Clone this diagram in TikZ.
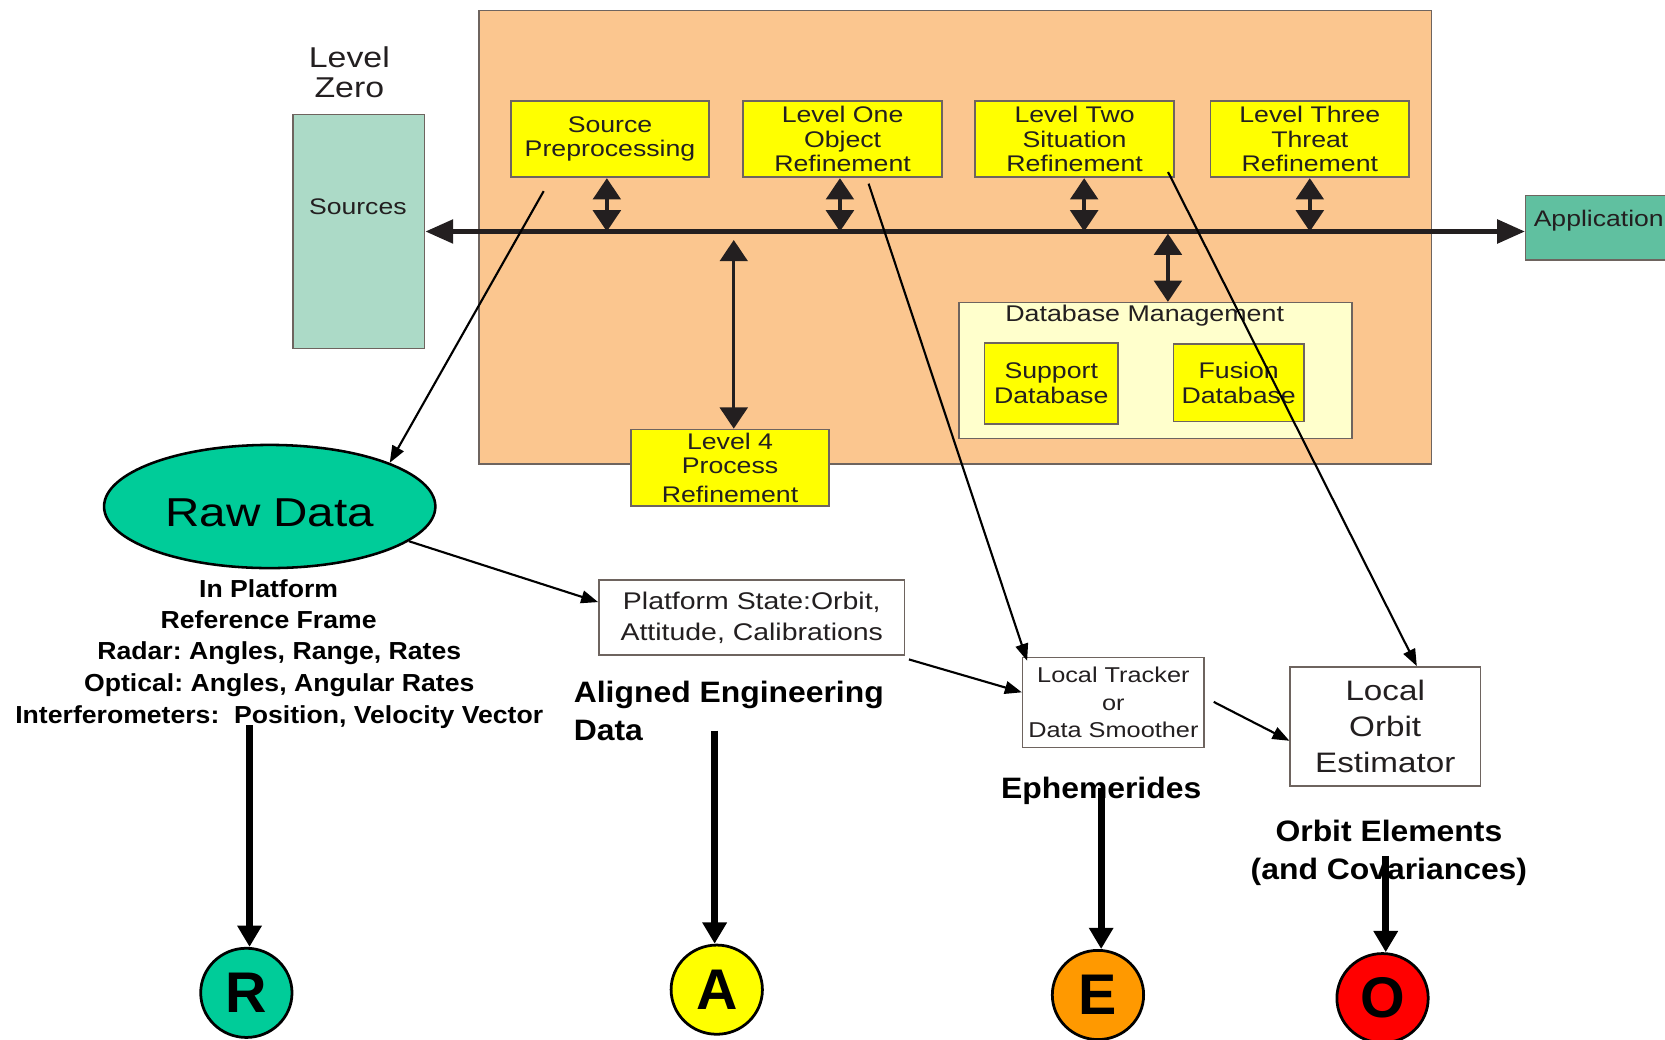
\documentclass[tikz,border=0pt]{standalone}
\usepackage{fontspec}
\setmainfont{Liberation Sans}[FakeStretch=1.18]
\newfontfamily\bwfont{Liberation Sans}[FakeStretch=1.08]
\newfontfamily\plainfont{Liberation Sans}
\usetikzlibrary{arrows.meta,calc,shapes.geometric}
\definecolor{peach}{RGB}{251,198,143}
\definecolor{srcfill}{RGB}{172,218,199}
\definecolor{appfill}{RGB}{96,192,160}
\definecolor{yel}{RGB}{255,255,0}
\definecolor{lightyel}{RGB}{255,255,204}
\definecolor{rawgreen}{RGB}{0,204,153}
\definecolor{eorange}{RGB}{255,153,0}
\definecolor{ored}{RGB}{255,0,0}
\definecolor{txt}{RGB}{35,31,32}
\definecolor{edge}{RGB}{110,100,95}
\begin{document}
\frenchspacing
\begin{tikzpicture}[x=0.5pt,y=-0.5pt,
  every node/.style={text=txt},
  ybox/.style={draw=edge, line width=0.8pt, fill=yel, inner sep=0pt, align=center,
    minimum width=93.5pt, minimum height=36pt, font=\fontsize{10.65}{11.5}\selectfont},
  wbox/.style={draw=edge, line width=0.7pt, fill=white, inner sep=0pt, align=center},
  lbl/.style={inner sep=0pt, align=center},
  btxt/.style={inner sep=0pt, text=black, font=\bwfont\bfseries\fontsize{13.9}{17.5}\selectfont},
  stxt/.style={inner sep=0pt, text=black, align=center, font=\bwfont\bfseries\fontsize{11.6}{15}\selectfont},
  bus/.style={line width=2pt, draw=txt, {Triangle[length=13pt,width=11pt]}-{Triangle[length=13pt,width=11pt]}},
  dbl/.style={line width=1.6pt, draw=txt, {Triangle[length=10pt,width=13pt]}-{Triangle[length=10pt,width=13pt]}},
  thin/.style={line width=1pt, draw=black, -{Triangle[length=8pt,width=6pt]}},
  thick/.style={line width=3.2pt, draw=black, -{Triangle[length=10pt,width=11pt]}},
  letter/.style={ellipse, draw=black, line width=1.3pt, minimum width=43pt, minimum height=42pt,
    inner sep=0pt, text=black, font=\plainfont\bfseries\fontsize{27}{27}\selectfont}
]
\useasboundingbox (0,0) rectangle (1568,979);

% background block
\node (bg) [draw=edge, line width=0.7pt, fill=peach, minimum width=448.5pt, minimum height=213.5pt, inner sep=0pt] at (899.5,223.5) {};

% level zero and sources
\node (lz) [lbl, font=\fontsize{13.5}{14}\selectfont] at (329,68) {Level\\Zero};
\node (srcbox) [draw=edge, line width=0.7pt, fill=srcfill, minimum width=62pt, minimum height=110pt, inner sep=0pt] at (338,218) {};
\node (srclbl) [lbl, font=\fontsize{10.6}{12}\selectfont] at (337,195) {Sources};

% application
\node (app) [draw=edge, line width=0.7pt, fill=appfill, anchor=west, minimum width=70pt, minimum height=30.5pt, inner sep=0pt] at (1436,214.5) {};
\node (applbl) [lbl, anchor=west, font=\fontsize{10.6}{12}\selectfont] at (1444,208) {Application};

% bus
\draw[bus] (srcbox.east) -- (srcbox.east -| app.west);

% yellow process boxes
\node (sp) [ybox] at (574.5,131) {Source\\Preprocessing};
\node (l1) [ybox] at (793.5,131) {Level One\\Object\\Refinement};
\node (l2) [ybox] at (1012,131) {Level Two\\Situation\\Refinement};
\node (l3) [ybox] at (1233.5,131) {Level Three\\Threat\\Refinement};
\node (l4) [ybox] at (687.5,440.5) {Level 4\\Process\\[2pt]Refinement};

% database management
\node (dbm) [draw=edge, line width=0.7pt, fill=lightyel, minimum width=185pt, minimum height=64pt, inner sep=0pt] at (1088,349) {};
\node (dblbl) [lbl, font=\fontsize{10.7}{12}\selectfont] at (1078,297) {Database Management};
\node (sdb) [ybox, minimum width=63pt, minimum height=38pt] at (990,361) {Support\\Database};
\node (fdb) [ybox, minimum width=61.5pt, minimum height=36.5pt] at (1166.5,360.5) {Fusion\\Database};

% double arrows to the bus
\draw[dbl] ([xshift=-1.5pt]sp.south) -- ([xshift=-1.5pt]sp.south |- srcbox.east);
\draw[dbl] ([xshift=-1.25pt]l1.south) -- ([xshift=-1.25pt]l1.south |- srcbox.east);
\draw[dbl] ([xshift=4.5pt]l2.south) -- ([xshift=4.5pt]l2.south |- srcbox.east);
\draw[dbl] (l3.south) -- (l3.south |- srcbox.east);
\draw[dbl, shorten >=4pt] ([xshift=1.75pt]l4.north) -- ([xshift=1.75pt]l4.north |- srcbox.east);
\coordinate (dbtop) at ($(dbm.north west)!0.532!(dbm.north east)$);
\draw[dbl, shorten >=1pt] (dbtop) -- (dbtop |- srcbox.east);

% raw data
\node (raw) [ellipse, draw=black, line width=1.2pt, fill=rawgreen, minimum width=156pt, minimum height=58pt, inner sep=0pt, text=black, font=\fontsize{19}{20}\selectfont] at (254,477) {\raisebox{-3pt}[\height][\depth]{Raw Data}};
\node (rawtxt1) [stxt] at (253,569) {In Platform\\Reference Frame};
\node (rawtxt2) [stxt] at (263,645)
  {Radar: Angles, Range, Rates\\Optical: Angles, Angular Rates\\Interferometers:\ \ Position, Velocity Vector};

% lower boxes
\node (plat) [wbox, minimum width=144pt, minimum height=35.5pt, font=\fontsize{11.35}{14.5}\selectfont] at (708,581.5) {Platform State:Orbit,\\Attitude, Calibrations};
\node (aed) [btxt, anchor=west, align=left] at (540,669.5) {Aligned Engineering\\Data};
\node (trk) [wbox, minimum width=85.5pt, minimum height=42.5pt, font=\fontsize{10.1}{13}\selectfont] at (1048.5,661.5) {Local Tracker\\or\\Data Smoother};
\node (orb) [wbox, minimum width=89.5pt, minimum height=56pt, font=\fontsize{13.25}{17}\selectfont] at (1304.5,684) {Local\\Orbit\\Estimator};
\node (eph) [btxt] at (1037,745) {Ephemerides};
\node (oel) [btxt, align=center, font=\bwfont\bfseries\fontsize{13.9}{18}\selectfont] at (1308,803) {Orbit Elements\\(and Covariances)};

% letter circles
\node (R) [letter, fill=rawgreen] at (232,935) {R};
\node (A) [letter, fill=yel] at (675,932) {A};
\node (E) [letter, fill=eorange] at (1034,937) {E};
\node (O) [letter, fill=ored] at (1302,940) {O};

% thin connectors
\coordinate (sp0) at (512,180);
\coordinate (l10) at (818,173);
\coordinate (l20) at (1100,162);
\coordinate (pl0) at (856,621);
\coordinate (tr0) at (1143,661);
\draw[thin] (sp0) -- (raw.20);
\draw[thin] (l10) -- ([shift={(5,4)}]trk.north west);
\draw[thin] (l20) -- ($(orb.north west)!0.665!(orb.north east)$);
\draw[thin] (raw.-14) -- ($(plat.north west)!0.3!(plat.south west)$);
\draw[thin] (pl0) -- ($(trk.north west)!0.39!(trk.south west)$);
\draw[thin] (tr0) -- ($(orb.north west)!0.62!(orb.south west)$);

% thick connectors
\coordinate (r0) at (235,683);
\coordinate (a0) at (673,688);
\coordinate (e0) at (1037,742);
\coordinate (o0) at (1305,806);
\draw[thick] (r0) -- (r0 |- R.north);
\draw[thick] (a0) -- (a0 |- A.north);
\draw[thick] (e0) -- (e0 |- E.north);
\draw[thick] (o0) -- (o0 |- O.north);
\end{tikzpicture}
\end{document}
